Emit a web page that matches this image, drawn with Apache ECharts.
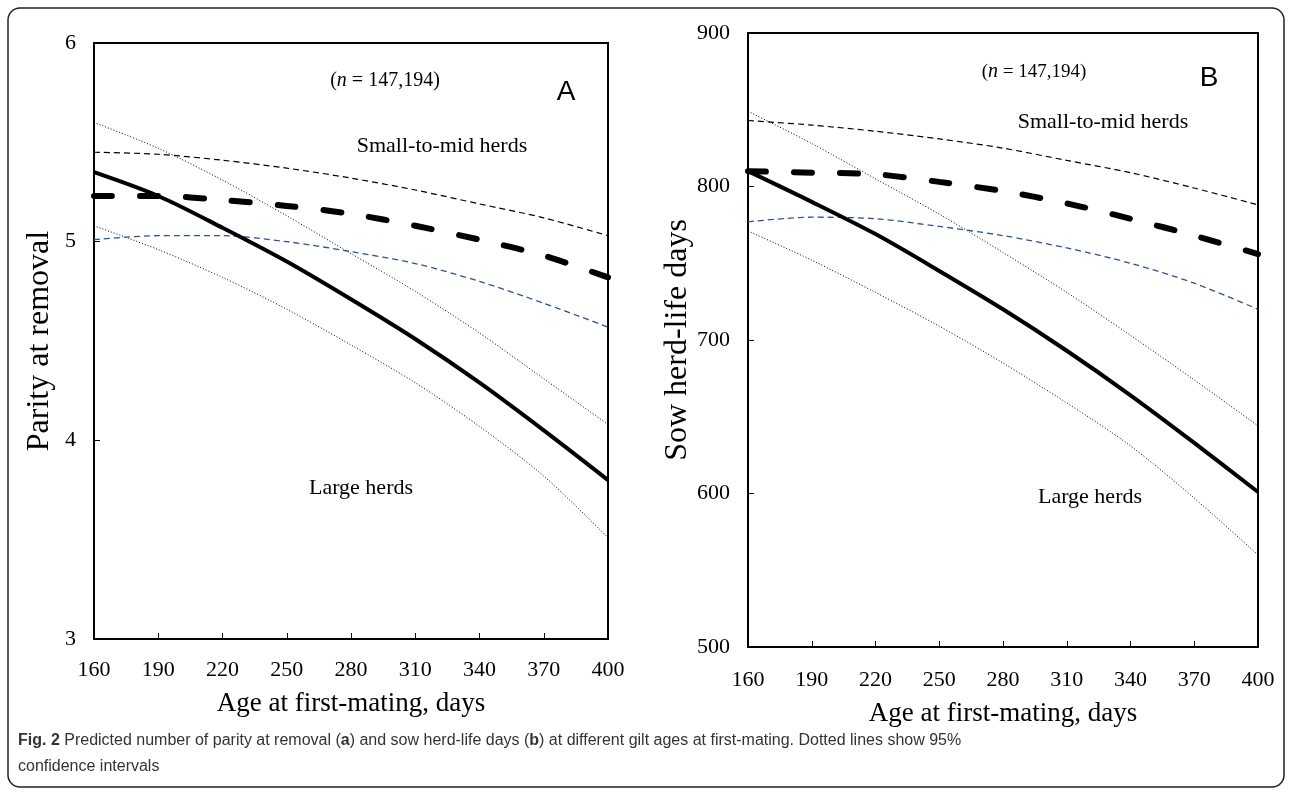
<!DOCTYPE html>
<html>
<head>
<meta charset="utf-8">
<script src="https://cdn.jsdelivr.net/npm/echarts@6/dist/echarts.min.js"></script>
<style>
  html, body { margin: 0; padding: 0; background: #fff; }
  #chart { width: 1292px; height: 795px; }
</style>
</head>
<body>
<div id="chart"></div>
<script>
// age at first mating (days)
const ages = ['160', '190', '220', '250', '280', '310', '340', '370', '400'];

// A - parity at removal
const parityLarge   = [5.35, 5.23, 5.07, 4.90, 4.71, 4.51, 4.29, 4.05, 3.80];
const parityLargeHi = [5.60, 5.47, 5.31, 5.13, 4.94, 4.75, 4.54, 4.31, 4.08];
const parityLargeLo = [5.08, 4.96, 4.82, 4.66, 4.48, 4.29, 4.07, 3.82, 3.51];
const paritySmall   = [5.23, 5.23, 5.21, 5.18, 5.14, 5.08, 5.01, 4.93, 4.82];
const paritySmallHi = [5.45, 5.44, 5.41, 5.37, 5.32, 5.26, 5.19, 5.12, 5.03];
const paritySmallLo = [5.01, 5.03, 5.03, 5.00, 4.95, 4.89, 4.80, 4.69, 4.57];

// B - sow herd-life days
const daysLarge   = [810, 790, 769, 745, 720, 693, 664, 633, 601];
const daysLargeHi = [849, 828, 805, 782, 757, 731, 703, 674, 644];
const daysLargeLo = [771, 752, 731, 709, 685, 659, 631, 597, 560];
const daysSmall   = [810, 809, 808, 803, 797, 789, 779, 768, 756];
const daysSmallHi = [843, 840, 836, 831, 825, 817, 809, 799, 788];
const daysSmallLo = [777, 780, 779, 774, 768, 760, 750, 737, 720];

const serif = 'Liberation Serif';
const ink = '#000';

const solid    = { color: ink, width: 4 };
const boldDash = { color: ink, width: 6, type: [18, 28], cap: 'round' };
const thinDash = { color: ink, width: 1.2, type: [6, 4] };
const blueDash = { color: '#2d5296', width: 1.3, type: [6, 4] };
const dotted   = { color: ink, width: 1, type: [1, 2] };

const line = (name, data, idx, lineStyle) => ({
  name,
  type: 'line',
  xAxisIndex: idx,
  yAxisIndex: idx,
  data,
  symbol: 'none',
  smooth: 0.3,
  silent: true,
  lineStyle
});

const xAxisFor = (idx, labelMargin, nameGap) => ({
  type: 'category',
  gridIndex: idx,
  data: ages,
  boundaryGap: false,
  axisLine: { lineStyle: { color: ink, width: 2 } },
  axisTick: { inside: true, length: 6, lineStyle: { color: ink, width: 1 } },
  axisLabel: { color: ink, fontFamily: serif, fontSize: 22, margin: labelMargin },
  splitLine: { show: false },
  name: 'Age at first-mating, days',
  nameLocation: 'middle',
  nameGap,
  nameTextStyle: { color: ink, fontFamily: serif, fontSize: 27 }
});

const yAxisFor = (idx, min, max, interval, name, nameGap) => ({
  type: 'value',
  gridIndex: idx,
  min, max, interval,
  axisLine: { show: true, lineStyle: { color: ink, width: 2 } },
  axisTick: { show: true, inside: true, length: 6, lineStyle: { color: ink, width: 1 } },
  axisLabel: { color: ink, fontFamily: serif, fontSize: 22, margin: 18 },
  splitLine: { show: false },
  name,
  nameLocation: 'middle',
  nameRotate: 90,
  nameGap,
  nameTextStyle: { color: ink, fontFamily: serif, fontSize: 32 }
});

const note = (x, y, text, size, rich) => ({
  type: 'text',
  x, y,
  silent: true,
  style: {
    text,
    fill: ink,
    font: size + 'px ' + serif,
    align: 'center',
    verticalAlign: 'middle',
    rich
  }
});

const italicN = { i: { fontStyle: 'italic', fontFamily: serif, fontSize: 20, fill: ink } };

const chart = echarts.init(document.getElementById('chart'));

chart.setOption({
  animation: false,
  backgroundColor: '#fff',
  grid: [
    { left: 94, top: 43, width: 514, height: 596, show: true, borderColor: ink, borderWidth: 2 },
    { left: 748, top: 33, width: 510, height: 614, show: true, borderColor: ink, borderWidth: 2 }
  ],
  xAxis: [xAxisFor(0, 20, 51), xAxisFor(1, 22, 53)],
  yAxis: [
    yAxisFor(0, 3, 6, 1, 'Parity at removal', 38),
    yAxisFor(1, 500, 900, 100, 'Sow herd-life days', 44)
  ],
  series: [
    line('A large CI upper', parityLargeHi, 0, dotted),
    line('A large CI lower', parityLargeLo, 0, dotted),
    line('A small CI upper', paritySmallHi, 0, thinDash),
    line('A small CI lower', paritySmallLo, 0, blueDash),
    line('A large herds', parityLarge, 0, solid),
    line('A small-to-mid herds', paritySmall, 0, boldDash),
    line('B large CI upper', daysLargeHi, 1, dotted),
    line('B large CI lower', daysLargeLo, 1, dotted),
    line('B small CI upper', daysSmallHi, 1, thinDash),
    line('B small CI lower', daysSmallLo, 1, blueDash),
    line('B large herds', daysLarge, 1, solid),
    line('B small-to-mid herds', daysSmall, 1, boldDash)
  ],
  graphic: [
    {
      type: 'rect',
      silent: true,
      shape: { x: 8, y: 8, width: 1276, height: 779, r: 12 },
      style: { fill: 'none', stroke: '#222', lineWidth: 1.5 }
    },
    note(385, 81, '({i|n} = 147,194)', 20, italicN),
    {
      type: 'text', x: 566, y: 92, silent: true,
      style: { text: 'A', fill: ink, font: '28px Liberation Sans', align: 'center', verticalAlign: 'middle' }
    },
    note(442, 146, 'Small-to-mid herds', 22),
    note(361, 488, 'Large herds', 22),
    note(1034, 72, '({i|n} = 147,194)', 19, italicN),
    {
      type: 'text', x: 1209, y: 78, silent: true,
      style: { text: 'B', fill: ink, font: '28px Liberation Sans', align: 'center', verticalAlign: 'middle' }
    },
    note(1103, 122, 'Small-to-mid herds', 22),
    note(1090, 497, 'Large herds', 22),
    {
      type: 'text', x: 18, y: 741, silent: true,
      style: {
        text: '{b|Fig. 2} Predicted number of parity at removal ({b|a}) and sow herd-life days ({b|b}) at different gilt ages at first-mating. Dotted lines show 95%',
        fill: '#333',
        font: '16px "Liberation Sans Narrow", "Liberation Sans"',
        verticalAlign: 'middle',
        rich: { b: { fontWeight: 'bold', fontSize: 16, fontFamily: '"Liberation Sans Narrow", "Liberation Sans"', fill: '#333' } }
      }
    },
    {
      type: 'text', x: 18, y: 767, silent: true,
      style: {
        text: 'confidence intervals',
        fill: '#333',
        font: '16px "Liberation Sans Narrow", "Liberation Sans"',
        verticalAlign: 'middle'
      }
    }
  ]
});
</script>
</body>
</html>
